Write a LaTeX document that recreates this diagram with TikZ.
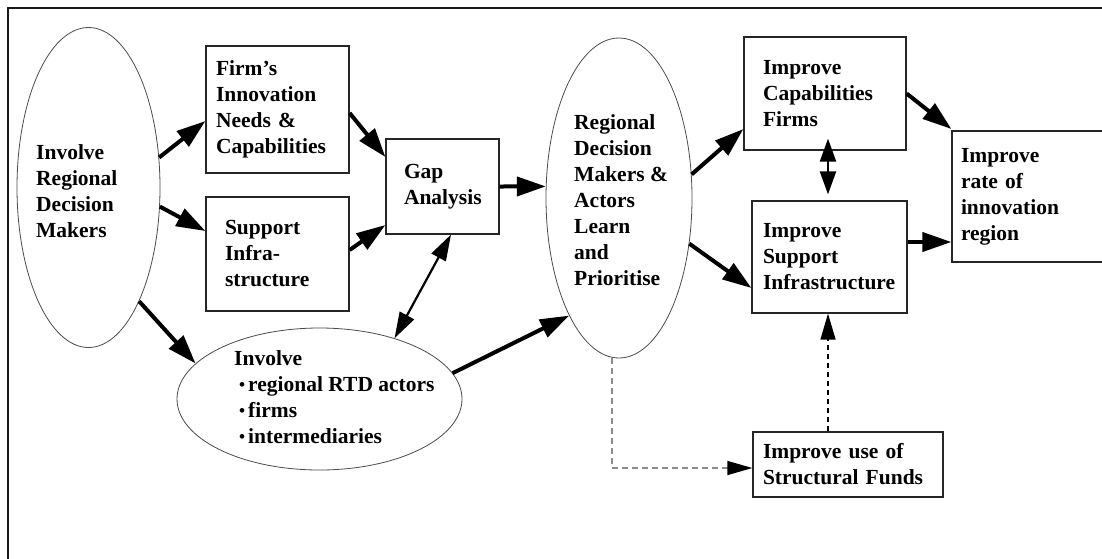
\documentclass[tikz,border=0pt]{standalone}
\usepackage{fontspec}
\setmainfont{Liberation Serif}
\usetikzlibrary{shapes.geometric,arrows.meta}
\newcommand{\itembullet}{\hspace*{5pt}\makebox[9pt][l]{\raisebox{1pt}{\scalebox{.8}{\textbullet}}}}
\hyphenpenalty=10000
\begin{document}
\begin{tikzpicture}[x=1pt,y=-1pt,
  lbl/.style={font=\fontsize{21.5}{26}\selectfont\bfseries, align=left, inner sep=0pt, anchor=west},
  box/.style={draw=black!85, line width=1.2pt, fill=white,
    font=\fontsize{21.5}{26}\selectfont\bfseries,
    align=left, inner xsep=0pt, inner ysep=0pt},
  oval/.style={draw=black!70, line width=0.8pt, ellipse, inner sep=0pt},
  flow/.style={line width=4pt, -{Triangle[length=29pt,width=19pt]}},
  both/.style={line width=2.2pt, {Triangle[length=26pt,width=16pt]}-{Triangle[length=26pt,width=16pt]}},
  shortboth/.style={line width=2.2pt, {Triangle[length=23pt,width=16pt]}-{Triangle[length=23pt,width=16pt]}},
  grayflow/.style={draw=black!45, line width=1.2pt, dash pattern=on 6pt off 4pt,
    -{Triangle[length=25pt,width=14pt,color=black]}},
  darkflow/.style={line width=1.3pt, dash pattern=on 5pt off 4pt, -{Triangle[length=26pt,width=15pt]}}
]
\useasboundingbox (0,0) rectangle (1102,558);
\clip (0,0) rectangle (1102,558);
\fill[white] (0,0) rectangle (1102,558);

% outer frame (top and left edges)
\draw[line width=1.5pt, black!90] (8,570) -- (8,8) -- (1120,8);

% ovals
\node[oval, minimum width=143pt, minimum height=320pt] (idm) at (88.5,187.5) {};
\node[lbl] (idmtxt) at (36,191) {Involve\\Regional\\Decision\\Makers};

\node[oval, minimum width=146pt, minimum height=320pt] (reg) at (619,198) {};
\node[lbl] (regtxt) at (574,200) {Regional\\Decision\\Makers \&\\Actors\\Learn\\and\\Prioritise};

\node[oval, minimum width=285pt, minimum height=142pt] (inv) at (319.5,399) {};
\node[lbl] (invtxt) at (234,397) {Involve\\\itembullet regional RTD actors\\\itembullet firms\\\itembullet intermediaries};

% boxes
\node[box, minimum width=143pt, minimum height=127pt, text width=123pt] (firm) at (277.5,109.5)
  {Firm’s\\Innovation\\Needs \&\\Capabilities};
\node[box, minimum width=143pt, minimum height=114pt, text width=105pt] (sup) at (277.5,254)
  {Support\\Infra-\\structure};
\node[box, minimum width=113pt, minimum height=95pt, text width=77pt] (gap) at (442.5,186.5)
  {Gap\\Analysis};
\node[box, minimum width=162pt, minimum height=113pt, text width=124pt] (cap) at (825,93.5)
  {Improve\\Capabilities\\Firms};
\node[box, minimum width=155pt, minimum height=112pt, text width=133pt] (supinf) at (829.5,257)
  {Improve\\Support\\Infrastructure};
\node[box, minimum width=160pt, minimum height=131pt, text width=142pt] (rate) at (1032,196.5)
  {Improve\\rate of\\innovation\\region};
\node[box, minimum width=190pt, minimum height=65pt, text width=170pt] (struct) at (848,464.5)
  {Improve use of\\Structural Funds};

% connectors
\draw[flow] (idm.23) -- ([yshift=-11.5pt]firm.west);
\draw[flow] (idm.-15) -- ([yshift=23pt]sup.west);
\draw[flow] (idm.-66) -- (inv.164);
\draw[flow] ([yshift=-3.5pt]firm.east) -- ([yshift=29.5pt]gap.west);
\draw[flow] ([yshift=4pt]sup.east) -- ([yshift=-38.5pt]gap.west);
\draw[both] ([xshift=8.5pt]gap.south) -- (inv.39);
\draw[flow] (gap.east) -- (reg.171);
\draw[flow] (inv.11) -- (reg.247);
\draw[flow] (reg.18) -- ([yshift=-35.5pt]cap.west);
\draw[flow] (reg.-33) -- ([yshift=-31pt]supinf.west);
\draw[shortboth] ([xshift=3pt,yshift=12pt]cap.south) -- ([xshift=-1.5pt,yshift=6pt]supinf.north);
\draw[flow] (cap.east) -- ([yshift=67.5pt]rate.west);
\draw[flow] ([yshift=15pt]supinf.east) -- ([yshift=-45.5pt]rate.west);
\draw[grayflow] ([xshift=-7pt]reg.south) |- ([yshift=-3.5pt]struct.west);
\draw[darkflow] ([xshift=-20pt]struct.north) -- ([xshift=-1.5pt]supinf.south);
\end{tikzpicture}
\end{document}
